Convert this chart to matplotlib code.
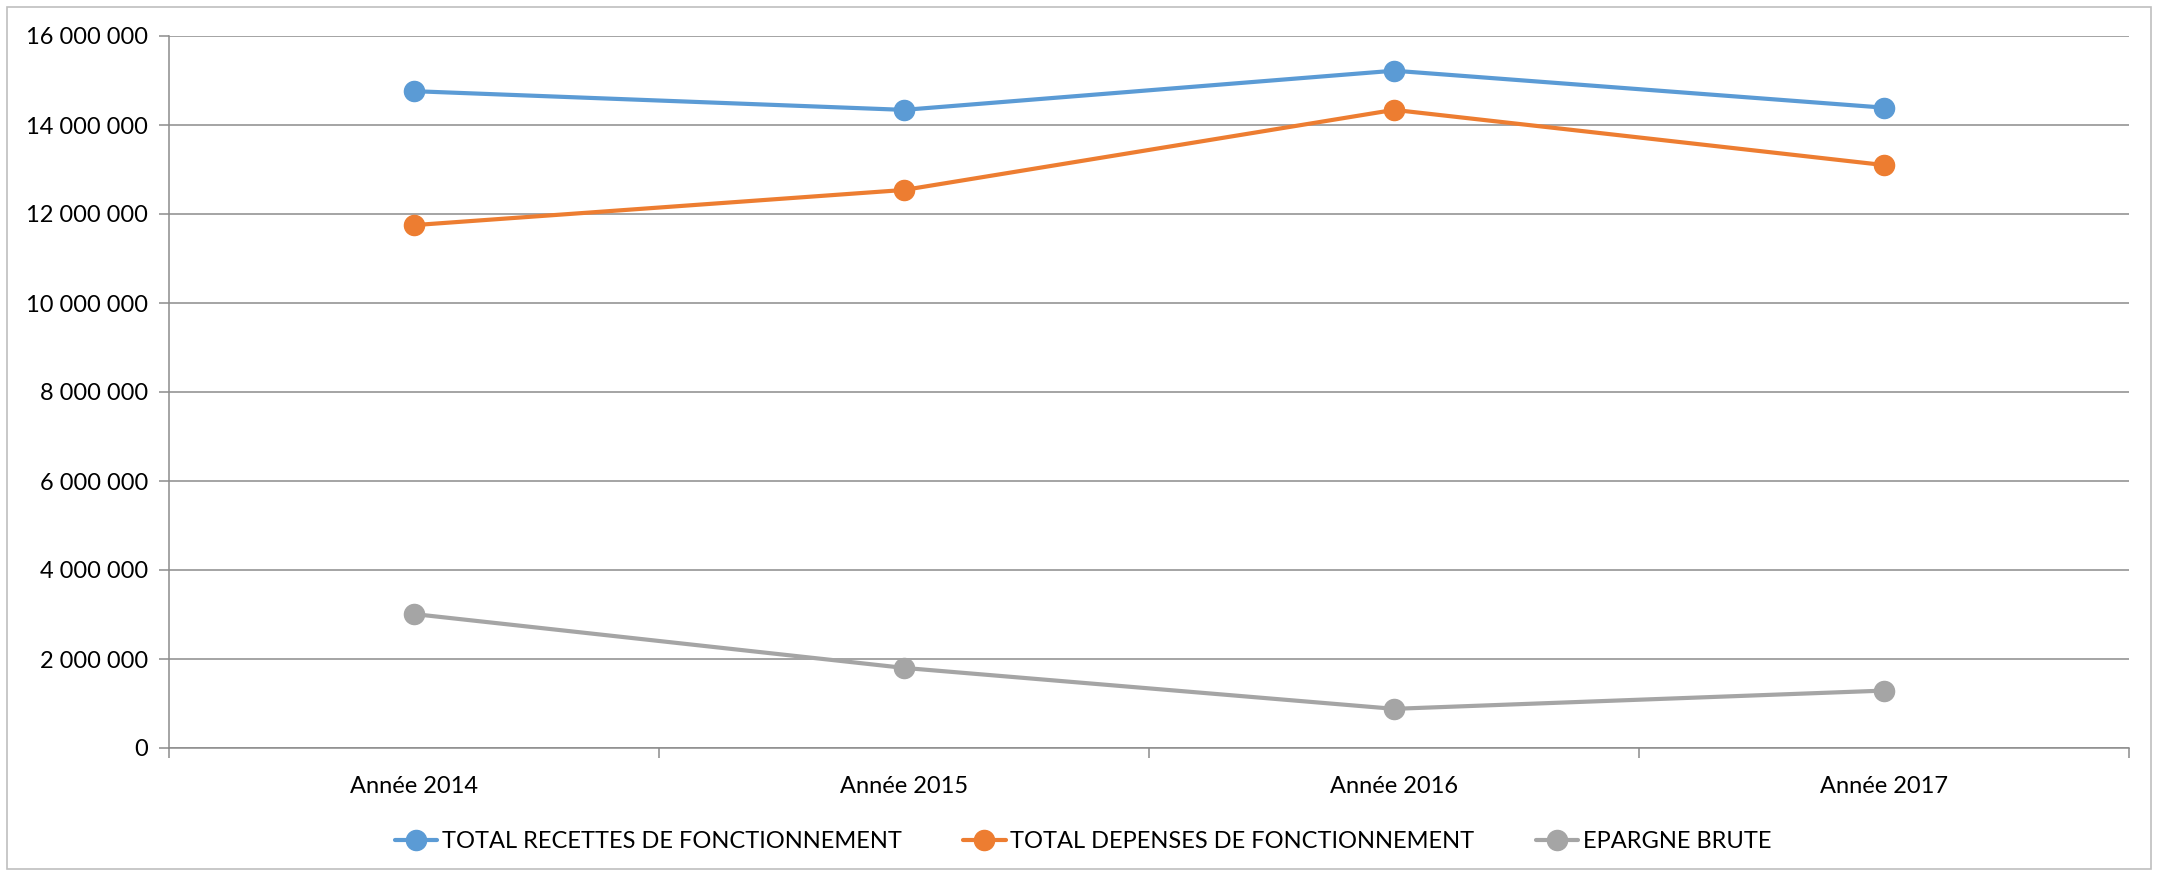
import matplotlib.pyplot as plt
from matplotlib.ticker import FuncFormatter, MultipleLocator

# données
annees = ["Année 2014", "Année 2015", "Année 2016", "Année 2017"]
recettes = [14760000, 14340000, 15220000, 14390000]
depenses = [11750000, 12540000, 14340000, 13100000]
epargne = [3010000, 1800000, 880000, 1290000]

plt.rcParams['font.family'] = ['Lato', 'DejaVu Sans']

fig = plt.figure(figsize=(21.58, 8.76), dpi=100)
W, H = 2158, 876
ax = fig.add_axes([169 / W, 1 - 748 / H, (2129 - 169) / W, (748 - 36) / H])

x = list(range(len(annees)))
p1, = ax.plot(x, recettes, color='#5B9BD5', lw=3.0, marker='o', ms=14.5, solid_capstyle='round')
p2, = ax.plot(x, depenses, color='#ED7D31', lw=3.0, marker='o', ms=14.5, solid_capstyle='round')
p3, = ax.plot(x, epargne, color='#A5A5A5', lw=3.0, marker='o', ms=14.5, solid_capstyle='round')

ax.set_xlim(-0.5, len(annees) - 0.5)
ax.set_ylim(0, 16000000)
ax.yaxis.set_major_locator(MultipleLocator(2000000))
ax.yaxis.set_major_formatter(FuncFormatter(lambda v, p: f"{int(v):,}".replace(",", " ")))

# grille horizontale
ax.grid(axis='y', color='#8C8C8C', lw=1.1)
ax.set_axisbelow(True)

for s in ['top', 'right']:
    ax.spines[s].set_visible(False)
for s in ['left', 'bottom']:
    ax.spines[s].set_color('#8C8C8C')
    ax.spines[s].set_linewidth(1.1)

# étiquettes centrées, graduations entre les catégories
ax.set_xticks(x)
ax.set_xticklabels(annees)
ax.set_xticks([i - 0.5 for i in range(len(annees) + 1)], minor=True)
ax.tick_params(axis='x', which='major', length=0, pad=20, labelsize=17, colors='#000000')
ax.tick_params(axis='x', which='minor', length=7, width=1.1, color='#8C8C8C')
ax.tick_params(axis='y', length=7, width=1.1, color='#8C8C8C', pad=8, labelsize=17, labelcolor='#000000')

fig.legend([p1, p2, p3],
           ["TOTAL RECETTES DE FONCTIONNEMENT", "TOTAL DEPENSES DE FONCTIONNEMENT", "EPARGNE BRUTE"],
           loc='center', bbox_to_anchor=(1083 / W, 1 - 842 / H), ncol=3, frameon=False,
           fontsize=17, handlelength=1.8, handletextpad=0.2, columnspacing=2.6)

# cadre du graphique
fig.patches.append(plt.Rectangle((7 / W, 7 / H), 1 - 14 / W, 1 - 14 / H, transform=fig.transFigure,
                                 fill=False, edgecolor='#BFBFBF', lw=1.2))

fig.savefig('out.png', dpi=100)
